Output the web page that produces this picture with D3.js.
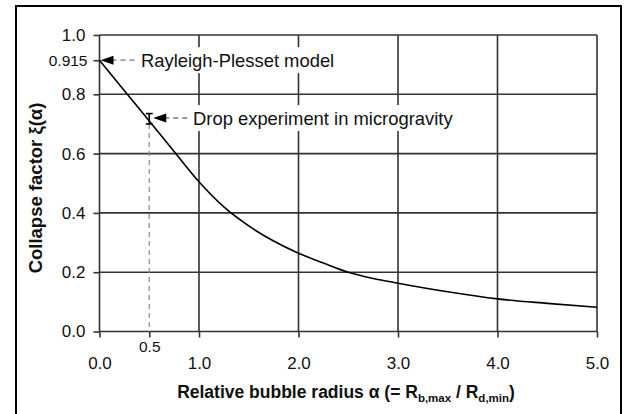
<!DOCTYPE html>
<html>
<head>
<meta charset="utf-8">
<script src="https://cdn.jsdelivr.net/npm/d3@7/dist/d3.min.js"></script>
<style>
  html, body { margin: 0; padding: 0; background: #fff; }
  svg { display: block; }
  text { font-family: "Liberation Sans", Arial, sans-serif; fill: #111; }
</style>
</head>
<body>
<svg id="chart" width="629" height="414"></svg>
<script>
// ---- data ----
const alpha = [0, 0.25, 0.5, 0.75, 1.0, 1.25, 1.5, 1.75, 2.0, 2.25, 2.5, 2.75, 3.0, 3.5, 4.0, 4.5, 5.0];
const xi    = [0.915, 0.812, 0.71, 0.607, 0.505, 0.42, 0.356, 0.305, 0.264, 0.231, 0.2, 0.179, 0.163, 0.134, 0.110, 0.095, 0.082];
const xTicks = [0, 1, 2, 3, 4, 5];
const xTickLabels = ["0.0", "1.0", "2.0", "3.0", "4.0", "5.0"];
const yTicks = [0, 0.2, 0.4, 0.6, 0.8, 1.0];
const yTickLabels = ["0.0", "0.2", "0.4", "0.6", "0.8", "1.0"];
const extraXTick = [0.5];
const extraXTickLabel = ["0.5"];
const extraYTick = [0.915];
const extraYTickLabel = ["0.915"];
const experiment = { alpha: [0.5], value: [0.72], low: [0.70], high: [0.735] };
const annotations = ["Rayleigh-Plesset model", "Drop experiment in microgravity"];

// ---- layout ----
const svg = d3.select("#chart");
const x = d3.scaleLinear().domain([0, 5]).range([99.5, 597]);
const y = d3.scaleLinear().domain([0, 1]).range([331.5, 35]);
const gridColor = "#333";

// outer frame
svg.append("rect").attr("x", 16).attr("y", 6).attr("width", 605).attr("height", 430)
  .attr("fill", "none").attr("stroke", "#000").attr("stroke-width", 2);

// gridlines
const g = svg.append("g");
g.selectAll(".hg").data(yTicks).join("line")
  .attr("x1", x(0)).attr("x2", x(5))
  .attr("y1", d => y(d)).attr("y2", d => y(d))
  .attr("stroke", gridColor).attr("stroke-width", 1.6);
g.selectAll(".vg").data(xTicks).join("line")
  .attr("x1", d => x(d)).attr("x2", d => x(d))
  .attr("y1", y(1)).attr("y2", y(0))
  .attr("stroke", gridColor).attr("stroke-width", 1.6);

// axes (ticks + labels)
const yAxis = d3.axisLeft(y).tickValues(yTicks).tickSize(6).tickPadding(8)
  .tickFormat((d, i) => yTickLabels[i]);
const ya = svg.append("g").attr("transform", `translate(${x(0)},0)`).call(yAxis);
const xAxis = d3.axisBottom(x).tickValues(xTicks).tickSize(6).tickPadding(19)
  .tickFormat((d, i) => xTickLabels[i]);
const xa = svg.append("g").attr("transform", `translate(0,${y(0)})`).call(xAxis);
[ya, xa].forEach(a => {
  a.select(".domain").remove();
  a.selectAll(".tick line").attr("stroke", gridColor).attr("stroke-width", 1.6);
  a.selectAll(".tick text").attr("font-size", 17).attr("fill", "#111")
    .attr("font-family", "Liberation Sans, Arial, sans-serif");
});

// extra ticks: 0.915 on y, 0.5 on x
const yExtra = svg.append("g").attr("transform", `translate(${x(0)},0)`)
  .call(d3.axisLeft(y).tickValues(extraYTick).tickSize(6).tickPadding(6)
    .tickFormat((d, i) => extraYTickLabel[i]));
const xExtra = svg.append("g").attr("transform", `translate(0,${y(0)})`)
  .call(d3.axisBottom(x).tickValues(extraXTick).tickSize(6).tickPadding(3)
    .tickFormat((d, i) => extraXTickLabel[i]));
[yExtra, xExtra].forEach(a => {
  a.select(".domain").remove();
  a.selectAll(".tick line").attr("stroke", gridColor).attr("stroke-width", 1.6);
  a.selectAll(".tick text").attr("font-size", 15.5).attr("fill", "#111")
    .attr("font-family", "Liberation Sans, Arial, sans-serif");
});

// dashed drop line from the experiment point down to the axis
svg.append("line")
  .attr("x1", x(experiment.alpha[0])).attr("x2", x(experiment.alpha[0]))
  .attr("y1", y(experiment.low[0])).attr("y2", y(0))
  .attr("stroke", "#888").attr("stroke-width", 1.2).attr("stroke-dasharray", "5,4");

// annotation label backgrounds + texts
const annY = [y(extraYTick[0]), y(experiment.value[0])];
const annX = [141, 193];
const annFont = 18.4;
const labels = svg.append("g");
annotations.forEach((t, i) => {
  const txt = labels.append("text").attr("x", annX[i]).attr("y", annY[i])
    .attr("dy", "0.36em").attr("font-size", annFont).text(t);
  const bb = txt.node().getBBox();
  labels.insert("rect", "text").attr("x", bb.x - 3).attr("y", annY[i] - 13)
    .attr("width", bb.width + 6).attr("height", 26).attr("fill", "#fff");
});

// curve
const pts = alpha.map((a, i) => [a, xi[i]]);
svg.append("path").datum(pts)
  .attr("d", d3.line().x(d => x(d[0])).y(d => y(d[1])).curve(d3.curveMonotoneX))
  .attr("fill", "none").attr("stroke", "#000").attr("stroke-width", 1.6);

// error bar
const ex = x(experiment.alpha[0]);
svg.append("line").attr("x1", ex).attr("x2", ex)
  .attr("y1", y(experiment.low[0])).attr("y2", y(experiment.high[0]))
  .attr("stroke", "#000").attr("stroke-width", 1.6);
[experiment.low[0], experiment.high[0]].forEach(v => {
  svg.append("line").attr("x1", ex - 3.5).attr("x2", ex + 3.5)
    .attr("y1", y(v)).attr("y2", y(v)).attr("stroke", "#000").attr("stroke-width", 1.6);
});

// arrows
function arrow(tipX, tipY, endX) {
  svg.append("line").attr("x1", tipX + 11).attr("x2", endX)
    .attr("y1", tipY).attr("y2", tipY)
    .attr("stroke", "#777").attr("stroke-width", 1.3).attr("stroke-dasharray", "5,4");
  svg.append("path")
    .attr("d", `M${tipX},${tipY} L${tipX + 13},${tipY - 4.5} L${tipX + 13},${tipY + 4.5} Z`)
    .attr("fill", "#000");
}
arrow(x(0) + 1, y(extraYTick[0]), annX[0] - 4);
arrow(ex + 4, y(experiment.value[0]), annX[1] - 4);

// axis titles
const xt = svg.append("text").attr("x", 346).attr("y", 398).attr("text-anchor", "middle")
  .attr("font-size", 17.5).attr("font-weight", "bold");
xt.append("tspan").text("Relative bubble radius α (= R");
xt.append("tspan").attr("font-size", 11.5).attr("dy", 4).text("b,max");
xt.append("tspan").attr("dy", -4).text(" / R");
xt.append("tspan").attr("font-size", 11.5).attr("dy", 4).text("d,min");
xt.append("tspan").attr("dy", -4).text(")");

svg.append("text").attr("transform", "translate(42,188) rotate(-90)")
  .attr("text-anchor", "middle").attr("font-size", 18.5).attr("font-weight", "bold")
  .text("Collapse factor ξ(α)");
</script>
</body>
</html>
